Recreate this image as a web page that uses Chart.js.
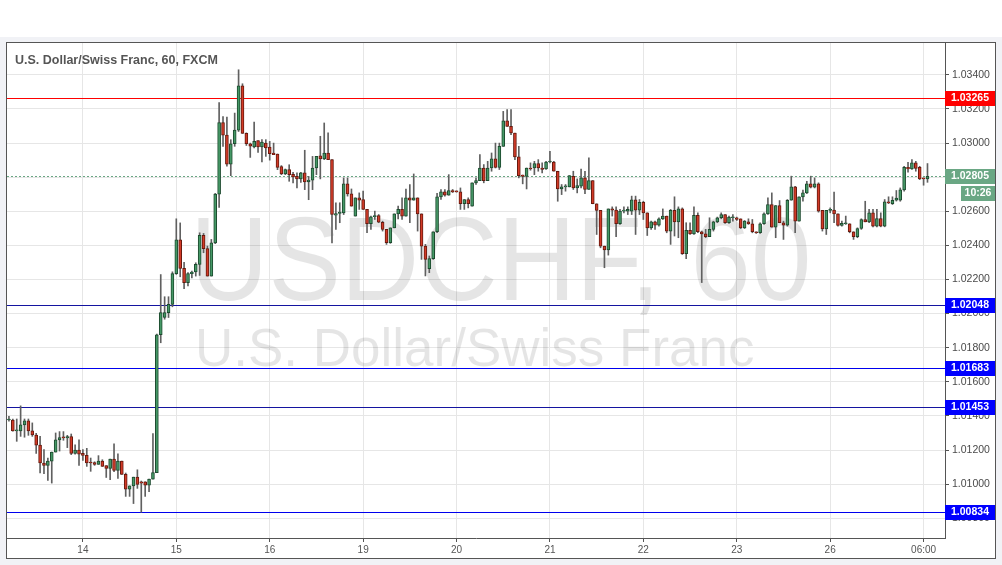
<!DOCTYPE html>
<html><head><meta charset="utf-8">
<script src="https://cdn.jsdelivr.net/npm/chart.js@4.4.1/dist/chart.umd.min.js"></script>
<style>html,body{margin:0;padding:0;background:#f1f2f6;overflow:hidden}canvas{display:block}</style>
</head><body><canvas id="c" width="1002" height="565" style="width:1002px;height:565px"></canvas>
<script>
// ---- data (hourly USD/CHF candles) ----
const openP = [1.01376,1.01376,1.01312,1.01312,1.01347,1.01371,1.01312,1.01288,1.01229,1.01124,
1.01110,1.01135,1.01188,1.01259,1.01273,1.01271,1.01279,1.01180,1.01200,1.01180,
1.01169,1.01127,1.01127,1.01116,1.01135,1.01108,1.01092,1.01147,1.01080,1.01135,
1.01057,1.00971,1.00990,1.01041,1.01014,1.01014,1.00994,1.01029,1.01067,1.01876,
1.01977,1.02006,1.02054,1.02234,1.02433,1.02265,1.02181,1.02234,1.02244,1.02289,
1.02459,1.02381,1.02220,1.02415,1.02701,1.03121,1.03047,1.02877,1.02996,1.03076,
1.03336,1.03057,1.02996,1.02977,1.03014,1.02977,1.03000,1.02977,1.02942,1.02936,
1.02862,1.02819,1.02844,1.02817,1.02805,1.02790,1.02825,1.02773,1.02783,1.02854,
1.02926,1.02907,1.02942,1.02903,1.02577,1.02587,1.02591,1.02761,1.02702,1.02572,
1.02679,1.02669,1.02611,1.02527,1.02568,1.02575,1.02536,1.02494,1.02416,1.02503,
1.02585,1.02611,1.02572,1.02679,1.02665,1.02679,1.02585,1.02396,1.02263,1.02322,
1.02480,1.02685,1.02714,1.02694,1.02722,1.02718,1.02714,1.02644,1.02669,1.02630,
1.02767,1.02780,1.02854,1.02780,1.02854,1.02907,1.02858,1.02981,1.03131,1.03098,
1.03059,1.02919,1.02813,1.02805,1.02854,1.02854,1.02880,1.02854,1.02848,1.02889,
1.02889,1.02835,1.02731,1.02743,1.02743,1.02805,1.02737,1.02747,1.02796,1.02728,
1.02780,1.02644,1.02605,1.02396,1.02373,1.02614,1.02607,1.02527,1.02601,1.02601,
1.02601,1.02667,1.02607,1.02653,1.02591,1.02503,1.02538,1.02519,1.02556,1.02572,
1.02484,1.02605,1.02538,1.02614,1.02351,1.02488,1.02468,1.02577,1.02480,1.02468,
1.02451,1.02494,1.02538,1.02562,1.02581,1.02533,1.02562,1.02562,1.02556,1.02503,
1.02538,1.02527,1.02480,1.02474,1.02527,1.02585,1.02640,1.02507,1.02634,1.02533,
1.02519,1.02665,1.02743,1.02542,1.02685,1.02708,1.02761,1.02741,1.02761,1.02605,
1.02497,1.02605,1.02607,1.02585,1.02517,1.02527,1.02527,1.02480,1.02451,1.02499,
1.02552,1.02538,1.02591,1.02513,1.02558,1.02513,1.02655,1.02644,1.02665,1.02665,
1.02726,1.02858,1.02848,1.02884,1.02858,1.02796,1.02790];
const highP = [1.01398,1.01382,1.01382,1.01459,1.01382,1.01382,1.01359,1.01298,1.01280,1.01202,
1.01153,1.01188,1.01300,1.01308,1.01308,1.01286,1.01294,1.01231,1.01259,1.01202,
1.01210,1.01153,1.01131,1.01167,1.01143,1.01108,1.01147,1.01237,1.01178,1.01135,
1.01065,1.00990,1.01041,1.01084,1.01018,1.01014,1.01029,1.01296,1.01880,1.02229,
1.02099,1.02099,1.02245,1.02556,1.02532,1.02300,1.02240,1.02250,1.02298,1.02474,
1.02470,1.02396,1.02435,1.02705,1.03238,1.03156,1.03152,1.03020,1.03176,1.03430,
1.03348,1.03060,1.03000,1.03123,1.03014,1.03020,1.03020,1.03010,1.03000,1.02936,
1.02868,1.02848,1.02873,1.02829,1.02825,1.02829,1.02958,1.02805,1.02922,1.02922,
1.03040,1.03118,1.03060,1.02903,1.02650,1.02650,1.02796,1.02796,1.02731,1.02679,
1.02708,1.02718,1.02611,1.02572,1.02601,1.02581,1.02542,1.02494,1.02503,1.02585,
1.02630,1.02679,1.02731,1.02757,1.02819,1.02679,1.02585,1.02406,1.02338,1.02480,
1.02705,1.02728,1.02728,1.02815,1.02728,1.02720,1.02737,1.02669,1.02679,1.02767,
1.02796,1.02932,1.02874,1.02893,1.02942,1.03000,1.03000,1.03186,1.03196,1.03196,
1.03059,1.02981,1.02813,1.02854,1.02884,1.02893,1.02903,1.02884,1.02893,1.02952,
1.02893,1.02835,1.02757,1.02757,1.02809,1.02835,1.02790,1.02848,1.02835,1.02913,
1.02780,1.02644,1.02605,1.02396,1.02614,1.02626,1.02626,1.02611,1.02626,1.02626,
1.02689,1.02689,1.02669,1.02659,1.02591,1.02542,1.02542,1.02562,1.02614,1.02572,
1.02611,1.02685,1.02626,1.02620,1.02533,1.02533,1.02626,1.02591,1.02484,1.02494,
1.02562,1.02542,1.02566,1.02591,1.02581,1.02572,1.02581,1.02566,1.02556,1.02546,
1.02556,1.02552,1.02480,1.02533,1.02591,1.02679,1.02708,1.02634,1.02663,1.02542,
1.02669,1.02806,1.02747,1.02685,1.02724,1.02776,1.02806,1.02796,1.02767,1.02605,
1.02605,1.02620,1.02712,1.02585,1.02542,1.02572,1.02527,1.02480,1.02503,1.02556,
1.02659,1.02611,1.02611,1.02611,1.02591,1.02669,1.02685,1.02685,1.02722,1.02737,
1.02864,1.02887,1.02903,1.02893,1.02864,1.02796,1.02880];
const lowP = [1.01369,1.01310,1.01251,1.01280,1.01275,1.01286,1.01280,1.01180,1.01065,1.01061,
1.01022,1.01006,1.01188,1.01194,1.01257,1.01214,1.01173,1.01175,1.01110,1.01139,
1.01104,1.01075,1.01110,1.01116,1.01104,1.01039,1.01026,1.01073,1.01033,1.01057,
1.00928,1.00928,1.00886,1.00975,1.00835,1.00928,1.00955,1.01029,1.01067,1.01829,
1.01967,1.01977,1.02040,1.02230,1.02216,1.02146,1.02162,1.02210,1.02220,1.02224,
1.02357,1.02220,1.02220,1.02410,1.02623,1.02981,1.02864,1.02809,1.02981,1.03068,
1.03057,1.02986,1.02916,1.02971,1.02946,1.02889,1.02922,1.02900,1.02932,1.02844,
1.02815,1.02815,1.02776,1.02767,1.02737,1.02770,1.02727,1.02668,1.02727,1.02815,
1.02790,1.02903,1.02903,1.02415,1.02494,1.02533,1.02581,1.02689,1.02630,1.02572,
1.02611,1.02611,1.02474,1.02494,1.02552,1.02533,1.02484,1.02406,1.02412,1.02503,
1.02556,1.02552,1.02572,1.02533,1.02665,1.02484,1.02318,1.02221,1.02240,1.02318,
1.02474,1.02669,1.02689,1.02694,1.02710,1.02712,1.02611,1.02611,1.02620,1.02630,
1.02757,1.02780,1.02767,1.02780,1.02835,1.02854,1.02845,1.02981,1.03098,1.03049,
1.02903,1.02796,1.02761,1.02731,1.02841,1.02815,1.02835,1.02825,1.02845,1.02884,
1.02835,1.02659,1.02698,1.02718,1.02743,1.02728,1.02708,1.02737,1.02704,1.02728,
1.02644,1.02464,1.02386,1.02269,1.02343,1.02572,1.02451,1.02523,1.02591,1.02581,
1.02581,1.02464,1.02581,1.02552,1.02458,1.02494,1.02494,1.02513,1.02552,1.02474,
1.02406,1.02455,1.02445,1.02347,1.02322,1.02464,1.02464,1.02474,1.02182,1.02445,
1.02451,1.02484,1.02533,1.02556,1.02529,1.02529,1.02542,1.02546,1.02499,1.02499,
1.02523,1.02474,1.02470,1.02470,1.02523,1.02581,1.02507,1.02445,1.02533,1.02435,
1.02513,1.02665,1.02474,1.02542,1.02659,1.02704,1.02737,1.02737,1.02595,1.02484,
1.02464,1.02591,1.02533,1.02513,1.02513,1.02523,1.02474,1.02435,1.02445,1.02494,
1.02538,1.02533,1.02509,1.02509,1.02509,1.02509,1.02645,1.02640,1.02660,1.02659,
1.02718,1.02829,1.02845,1.02835,1.02786,1.02753,1.02770];
const closeP = [1.01378,1.01312,1.01314,1.01347,1.01371,1.01312,1.01288,1.01229,1.01124,1.01110,
1.01135,1.01188,1.01259,1.01273,1.01271,1.01279,1.01180,1.01200,1.01176,1.01169,
1.01124,1.01124,1.01116,1.01135,1.01104,1.01092,1.01147,1.01080,1.01135,1.01057,
1.00971,1.00990,1.01041,1.00998,1.01006,1.00994,1.01029,1.01067,1.01876,1.02006,
1.02006,1.02054,1.02234,1.02433,1.02265,1.02181,1.02234,1.02244,1.02289,1.02459,
1.02381,1.02220,1.02415,1.02701,1.03121,1.03047,1.02877,1.02996,1.03076,1.03336,
1.03057,1.02996,1.02982,1.03010,1.02977,1.03006,1.02971,1.02938,1.02932,1.02858,
1.02819,1.02844,1.02815,1.02801,1.02790,1.02825,1.02773,1.02783,1.02854,1.02922,
1.02907,1.02942,1.02903,1.02581,1.02587,1.02595,1.02761,1.02702,1.02630,1.02679,
1.02665,1.02611,1.02527,1.02568,1.02575,1.02536,1.02494,1.02416,1.02503,1.02585,
1.02611,1.02572,1.02679,1.02665,1.02679,1.02585,1.02396,1.02318,1.02322,1.02480,
1.02685,1.02714,1.02694,1.02722,1.02714,1.02714,1.02644,1.02669,1.02644,1.02767,
1.02780,1.02854,1.02780,1.02854,1.02907,1.02858,1.02981,1.03131,1.03098,1.03059,
1.02919,1.02809,1.02805,1.02854,1.02848,1.02880,1.02854,1.02845,1.02889,1.02891,
1.02835,1.02731,1.02743,1.02745,1.02809,1.02737,1.02751,1.02796,1.02728,1.02780,
1.02644,1.02605,1.02396,1.02373,1.02614,1.02607,1.02527,1.02601,1.02603,1.02611,
1.02667,1.02607,1.02653,1.02591,1.02503,1.02538,1.02519,1.02556,1.02572,1.02484,
1.02605,1.02538,1.02614,1.02351,1.02488,1.02468,1.02577,1.02480,1.02468,1.02451,
1.02494,1.02538,1.02562,1.02581,1.02533,1.02566,1.02564,1.02552,1.02503,1.02542,
1.02527,1.02480,1.02474,1.02527,1.02585,1.02640,1.02507,1.02634,1.02533,1.02519,
1.02665,1.02743,1.02542,1.02685,1.02708,1.02761,1.02741,1.02761,1.02601,1.02497,
1.02605,1.02607,1.02585,1.02517,1.02529,1.02529,1.02480,1.02451,1.02499,1.02552,
1.02538,1.02591,1.02513,1.02558,1.02513,1.02655,1.02649,1.02665,1.02677,1.02726,
1.02858,1.02848,1.02884,1.02852,1.02790,1.02790,1.02805];

const slotCount = 241;                       // hourly slots on the time axis
const dayLabels = ['14','15','16','19','20','21','22','23','26','06:00'];
const dayIndex  = [19,43,67,91,115,139,163,187,211,235];
const levelValues = [1.03265, 1.02048, 1.01683, 1.01453, 1.00834];
const lastPrice = 1.02805;
const countdown = '10:26';
const yMin = 1.00684, yMax = 1.03587, yStep = 0.002;

// ---- styling ----
const FONT = "'Liberation Sans', Arial, sans-serif";
const levelColors = ['#ff0000', '#1414a0', '#0000ee', '#1414a0', '#0000ee'];
const levelBoxColors = ['#ff0000', '#0000ff', '#0000ff', '#0000ff', '#0000ff'];
const GREEN_FILL = '#459866', GREEN_LINE = '#1c4a2e';
const RED_FILL = '#d23a27', RED_LINE = '#65190e';
const LAST_COLOR = '#6aa784';

const xLabels = Array.from({length: slotCount}, () => '');
dayIndex.forEach((idx, k) => { xLabels[idx] = dayLabels[k]; });

const bodies = openP.map((o, i) => [o, closeP[i]]);
const wicks = lowP.map((l, i) => [l, highP[i]]);
const isUp = i => closeP[i] >= openP[i];

const decoPlugin = {
  id: 'deco',
  beforeDraw(chart) {
    const c = chart.ctx;
    c.save();
    c.fillStyle = '#ffffff'; c.fillRect(0, 0, 1002, 565);
    c.fillStyle = '#f1f2f6'; c.fillRect(0, 37, 1002, 528);
    c.fillStyle = '#ffffff'; c.fillRect(7, 43, 988, 515);
    c.restore();
  },
  beforeDatasetsDraw(chart) {
    const c = chart.ctx, a = chart.chartArea, y = chart.scales.y;
    c.save();
    c.beginPath(); c.rect(a.left, a.top, a.right - a.left, a.bottom - a.top); c.clip();
    // watermark
    c.fillStyle = 'rgba(0,0,0,0.10)';
    c.textBaseline = 'alphabetic'; c.textAlign = 'left';
    c.save(); c.translate(190, 300); c.scale(0.92, 1);
    c.font = '118px ' + FONT; c.fillText('USDCHF, 60', 0, 0);
    c.restore();
    c.font = '53px ' + FONT; c.fillText('U.S. Dollar/Swiss Franc', 195, 366);
    // horizontal levels
    levelValues.forEach((v, k) => {
      const py = Math.round(y.getPixelForValue(v)) + 0.5;
      c.strokeStyle = levelColors[k]; c.lineWidth = 1;
      c.beginPath(); c.moveTo(a.left, py); c.lineTo(a.right, py); c.stroke();
    });
    // last price dashed
    const lp = Math.round(y.getPixelForValue(lastPrice)) + 0.5;
    c.strokeStyle = LAST_COLOR; c.setLineDash([2, 2]);
    c.beginPath(); c.moveTo(a.left, lp); c.lineTo(a.right, lp); c.stroke();
    c.restore();
  },
  afterDraw(chart) {
    const c = chart.ctx, a = chart.chartArea, y = chart.scales.y;
    c.save();
    // frame
    c.strokeStyle = '#555'; c.lineWidth = 1;
    c.strokeRect(6.5, 42.5, 989, 516);
    // title
    c.fillStyle = '#555'; c.font = 'bold 12.5px ' + FONT;
    c.textAlign = 'left'; c.textBaseline = 'middle';
    c.fillText('U.S. Dollar/Swiss Franc, 60, FXCM', 15, 61);
    // level boxes
    c.font = 'bold 10.5px ' + FONT; c.textAlign = 'center';
    const box = (py, color, text, x0, x1) => {
      c.fillStyle = color; c.fillRect(x0, py - 7, x1 - x0, 15);
      c.fillStyle = '#ffffff'; c.fillText(text, (x0 + x1) / 2, py + 0.5);
    };
    levelValues.forEach((v, k) => {
      const py = Math.round(y.getPixelForValue(v));
      box(py, levelBoxColors[k], v.toFixed(5), a.right, 995);
    });
    const lp = Math.round(y.getPixelForValue(lastPrice));
    box(lp, LAST_COLOR, lastPrice.toFixed(5), a.right, 995);
    box(lp + 17, LAST_COLOR, countdown, 961, 995);
    c.restore();
  }
};

Chart.defaults.font.family = FONT;
new Chart(document.getElementById('c'), {
  type: 'bar',
  data: {
    labels: xLabels,
    datasets: [
      {
        label: 'body', data: bodies, order: 0, grouped: false,
        barThickness: 3, minBarLength: 1, borderWidth: 1, borderSkipped: false,
        backgroundColor: ctx => isUp(ctx.dataIndex) ? GREEN_FILL : RED_FILL,
        borderColor: ctx => isUp(ctx.dataIndex) ? GREEN_LINE : RED_LINE
      },
      {
        label: 'wick', data: wicks, order: 1, grouped: false,
        barThickness: 1, backgroundColor: '#606060', borderWidth: 0
      }
    ]
  },
  options: {
    responsive: false, animation: false, devicePixelRatio: 1,
    layout: { padding: { left: 7, top: 43, right: 7, bottom: 7 } },
    plugins: { legend: { display: false }, tooltip: { enabled: false }, title: { display: false } },
    scales: {
      x: {
        type: 'category', offset: true,
        grid: {
          offset: false, drawTicks: true, tickLength: 4,
          color: ctx => (ctx.tick && ctx.tick.label) ? '#e6e6e6' : 'rgba(0,0,0,0)',
          tickColor: ctx => (ctx.tick && ctx.tick.label) ? '#555' : 'rgba(0,0,0,0)'
        },
        border: { color: '#555', width: 1 },
        ticks: { autoSkip: false, maxRotation: 0, minRotation: 0, padding: 2, color: '#555',
                 font: { size: 10, family: FONT } },
        afterFit(s) { s.height = 20; }
      },
      y: {
        type: 'linear', position: 'right', min: yMin, max: yMax,
        grid: { color: '#e6e6e6', tickColor: '#555', tickLength: 4 },
        border: { color: '#555', width: 1 },
        ticks: { stepSize: yStep, includeBounds: false, padding: 3, color: '#4a4a4a',
                 font: { size: 10.5, family: FONT }, callback: v => v.toFixed(5) },
        afterFit(s) { s.width = 50; }
      }
    }
  },
  plugins: [decoPlugin]
});
</script>
</body></html>
